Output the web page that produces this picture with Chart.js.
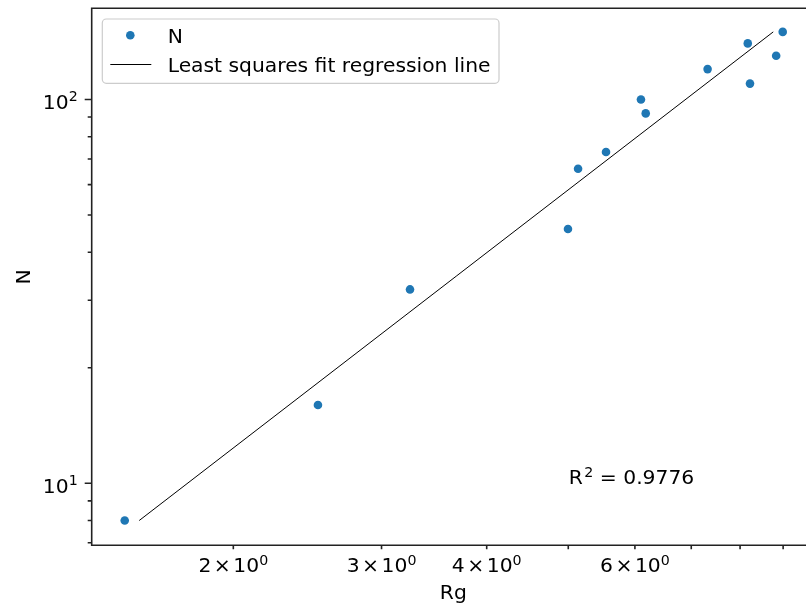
<!DOCTYPE html>
<html>
<head>
<meta charset="utf-8">
<script src="https://cdn.jsdelivr.net/npm/chart.js@4.4.1/dist/chart.umd.min.js"></script>
<style>
  html, body { margin: 0; padding: 0; overflow: hidden; background: #fff; }
  #wrap { position: relative; width: 820px; height: 608px; }
</style>
</head>
<body>
<div id="wrap"><canvas id="c"></canvas></div>
<script>
// Radius of gyration (Rg) against chain size (N), log–log axes
const rg     = [1.486, 2.521, 3.243, 4.996, 5.136, 5.544, 6.10, 6.18, 7.32, 8.17, 8.22, 8.83, 8.99];
const nVals  = [8, 16, 32, 46, 66, 73, 100, 92, 120, 140, 110, 130, 150];

// End points of the least squares fit line
const fitRg  = [1.546, 8.76];
const fitN   = [8, 150];
const rSquared = '0.9776';

// Axis ranges
const xRange = [1.3576, 9.82];
const yRange = [6.895, 172.8];

// Ticks and tick labels
const xMinorTicks   = [2, 3, 4, 5, 6, 7, 8, 9];
const xLabelTicks   = [2, 3, 4, 6];
const xLabelMant    = ['2', '3', '4', '6'];
const xLabelExp     = ['0', '0', '0', '0'];
const yMajorTicks   = [10, 100];
const yMajorExp     = ['1', '2'];
const yMinorTicks   = [7, 8, 9, 20, 30, 40, 50, 60, 70, 80, 90];

const FONT = "'DejaVu Sans', 'Liberation Sans', sans-serif";
const MAIN = 20.3, SUP = 14.2;
const INK = '#222';

// Draw a run of text pieces (normal and superscript) starting at x, baseline y
function runWidth(ctx, runs) {
  let w = 0;
  for (const r of runs) {
    ctx.font = r.size + 'px ' + FONT;
    w += (r.gap || 0) + ctx.measureText(r.t).width;
  }
  return w;
}
function drawRuns(ctx, runs, x, y, align) {
  const w = runWidth(ctx, runs);
  let cx = align === 'center' ? x - w / 2 : align === 'right' ? x - w : x;
  ctx.textAlign = 'left';
  ctx.textBaseline = 'alphabetic';
  for (const r of runs) {
    ctx.font = r.size + 'px ' + FONT;
    cx += (r.gap || 0);
    ctx.fillText(r.t, cx, y + (r.dy || 0));
    cx += ctx.measureText(r.t).width;
  }
}

const axesPlugin = {
  id: 'mplAxes',
  afterDatasetsDraw(chart) {
    const ctx = chart.ctx;
    const { left, right, top, bottom } = chart.chartArea;
    const xs = chart.scales.x, ys = chart.scales.y;
    ctx.save();

    // spines
    ctx.strokeStyle = INK;
    ctx.lineWidth = 1.6;
    ctx.lineCap = 'butt';
    ctx.beginPath();
    ctx.moveTo(left, top); ctx.lineTo(right, top);
    ctx.moveTo(left, bottom); ctx.lineTo(right, bottom);
    ctx.moveTo(left, top - 0.8); ctx.lineTo(left, bottom + 0.8);
    ctx.moveTo(right, top - 0.8); ctx.lineTo(right, bottom + 0.8);
    ctx.stroke();

    // tick marks
    ctx.beginPath();
    for (const v of xMinorTicks) {
      const px = xs.getPixelForValue(v);
      ctx.moveTo(px, bottom); ctx.lineTo(px, bottom + 4);
    }
    for (const v of yMinorTicks) {
      const py = ys.getPixelForValue(v);
      ctx.moveTo(left, py); ctx.lineTo(left - 4, py);
    }
    for (const v of yMajorTicks) {
      const py = ys.getPixelForValue(v);
      ctx.moveTo(left, py); ctx.lineTo(left - 7, py);
    }
    ctx.stroke();

    // tick labels
    ctx.fillStyle = '#000';
    xLabelTicks.forEach((v, i) => {
      const px = xs.getPixelForValue(v);
      drawRuns(ctx, [
        { t: xLabelMant[i], size: MAIN },
        { t: '\u00d7', size: MAIN, gap: 2.5 },
        { t: '10', size: MAIN, gap: 2.5 },
        { t: xLabelExp[i], size: SUP, dy: -6.6 }
      ], px, bottom + 26.4, 'center');
    });
    yMajorTicks.forEach((v, i) => {
      const py = ys.getPixelForValue(v);
      drawRuns(ctx, [
        { t: '10', size: MAIN },
        { t: yMajorExp[i], size: SUP, dy: -7.4 }
      ], left - 14, py + 9.3, 'right');
    });

    // axis titles
    ctx.font = MAIN + 'px ' + FONT;
    ctx.textAlign = 'center';
    ctx.textBaseline = 'alphabetic';
    ctx.fillText('Rg', (left + right) / 2, bottom + 54);
    ctx.save();
    ctx.translate(30, (top + bottom) / 2);
    ctx.rotate(-Math.PI / 2);
    ctx.fillText('N', 0, 0);
    ctx.restore();

    // coefficient of determination
    drawRuns(ctx, [
      { t: 'R', size: MAIN },
      { t: '2', size: SUP, dy: -7.2, gap: 1.5 },
      { t: ' = ' + rSquared, size: MAIN }
    ], xs.getPixelForValue(5) + 0.5, ys.getPixelForValue(10) + 1, 'left');

    // legend
    const lx = left + 10.6, ly = top + 10.7, lw = 396.7, lh = 64.3;
    ctx.beginPath();
    ctx.roundRect(lx, ly, lw, lh, 4);
    ctx.fillStyle = 'rgba(255,255,255,0.8)';
    ctx.fill();
    ctx.strokeStyle = '#cccccc';
    ctx.lineWidth = 1.2;
    ctx.stroke();

    const ds = chart.data.datasets;
    // marker entry
    ctx.fillStyle = ds[0].backgroundColor;
    ctx.beginPath();
    ctx.arc(lx + 28, ly + 16.3, ds[0].pointRadius, 0, Math.PI * 2);
    ctx.fill();
    // line entry
    ctx.strokeStyle = ds[1].borderColor;
    ctx.lineWidth = ds[1].borderWidth;
    ctx.beginPath();
    ctx.moveTo(lx + 8, ly + 45.5);
    ctx.lineTo(lx + 49, ly + 45.5);
    ctx.stroke();

    ctx.fillStyle = '#000';
    ctx.font = MAIN + 'px ' + FONT;
    ctx.textAlign = 'left';
    ctx.textBaseline = 'alphabetic';
    ctx.fillText(ds[0].label, lx + 65.4, ly + 23.6);
    ctx.fillText(ds[1].label, lx + 65.4, ly + 53.4);

    ctx.restore();
  }
};

const chart = new Chart(document.getElementById('c'), {
  type: 'scatter',
  data: {
    datasets: [
      {
        label: 'N',
        data: rg.map((x, i) => ({ x, y: nVals[i] })),
        backgroundColor: '#1f77b4',
        borderWidth: 0,
        pointRadius: 4.3,
        pointHoverRadius: 4.3,
        showLine: false,
        order: 1
      },
      {
        label: 'Least squares fit regression line',
        data: fitRg.map((x, i) => ({ x, y: fitN[i] })),
        borderColor: '#000000',
        backgroundColor: '#000000',
        borderWidth: 1,
        pointRadius: 0,
        showLine: true,
        order: 0
      }
    ]
  },
  options: {
    responsive: true,
    maintainAspectRatio: false,
    animation: false,
    devicePixelRatio: 1,
    layout: { padding: { left: 91.7, top: 8.3, right: 5, bottom: 62.7 } },
    plugins: { legend: { display: false }, tooltip: { enabled: false } },
    scales: {
      x: { type: 'logarithmic', min: xRange[0], max: xRange[1], display: false },
      y: { type: 'logarithmic', min: yRange[0], max: yRange[1], display: false }
    }
  },
  plugins: [axesPlugin]
});
</script>
</body>
</html>
